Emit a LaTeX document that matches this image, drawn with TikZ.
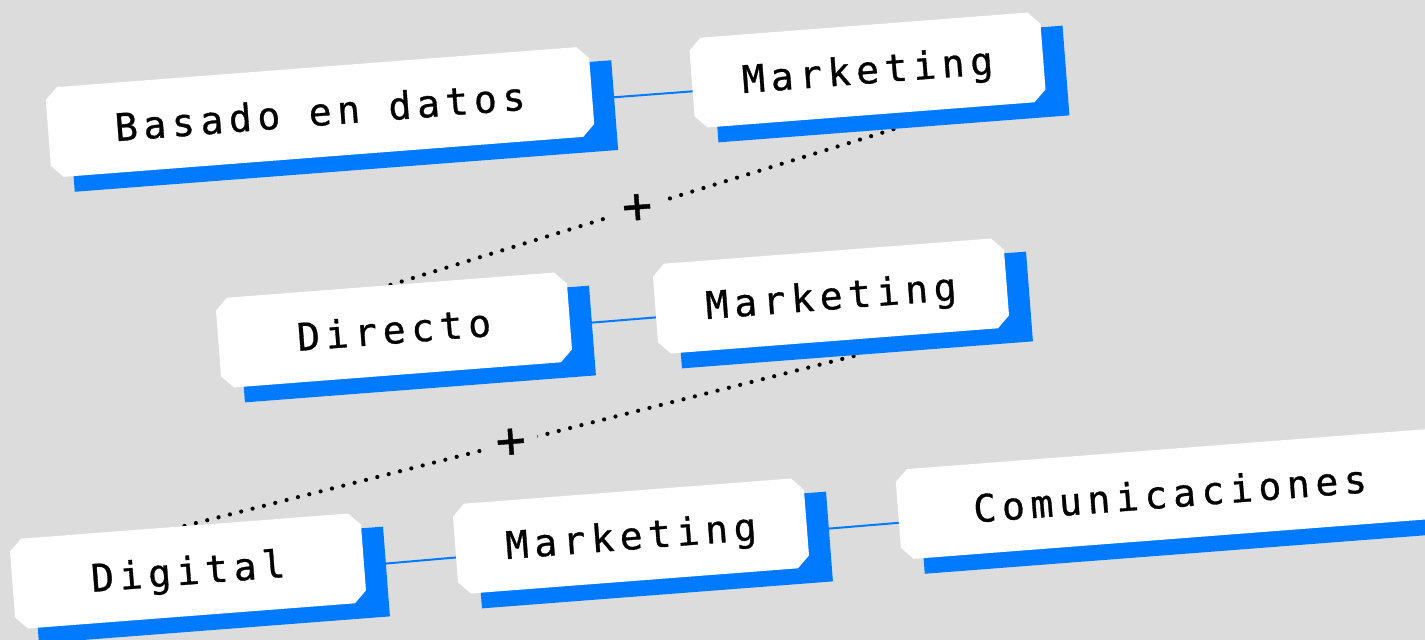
\documentclass[tikz,border=0pt]{standalone}
\usepackage{fontspec}
\newfontfamily\boxfont{DejaVu Sans Mono}[LetterSpace=15,FakeBold=0.8]
\newfontfamily\plusfont{DejaVu Sans Mono}[FakeBold=0.8]
\usetikzlibrary{shapes.misc}
\definecolor{bg}{RGB}{220,220,220}
\definecolor{accent}{RGB}{0,123,255}
\pgfdeclarelayer{back}
\pgfsetlayers{back,main}
\begin{document}
\begin{tikzpicture}[x=1pt,y=-1pt,
  boxbase/.style={chamfered rectangle, chamfered rectangle xsep=6pt, chamfered rectangle ysep=6pt,
    inner sep=0pt, minimum height=90pt, rotate=4.4, draw=none},
  wbox/.style={boxbase, fill=white, font=\boxfont\fontsize{38}{38}\selectfont, text height=27pt, text depth=0pt},
  sbox/.style={boxbase, fill=accent},
  small/.style={minimum width=352pt},
  large/.style={minimum width=545pt},
  conn/.style={draw=accent, line width=2pt},
  dotline/.style={draw=black, line width=4.2pt, line cap=round, dash pattern=on 0pt off 11.7pt},
  plusnode/.style={fill=bg, font=\plusfont\fontsize{50}{50}\selectfont, rotate=4.4, minimum width=54pt, minimum height=44pt, inner sep=0pt}
]
\useasboundingbox (0,0) rectangle (1425,640);
% shadows
\node[sbox, large] (bs)  at (343,126) {};
\node[sbox, small] (m1s) at (890.5,84) {};
\node[sbox, small] (ds)  at (417,344) {};
\node[sbox, small] (m2s) at (854,310) {};
\node[sbox, small] (gs)  at (211,585) {};
\node[sbox, small] (m3s) at (654,550) {};
\node[sbox, large] (cs)  at (1193,508) {};
% boxes
\node[wbox, large] (b)  at (320,112) {Basado en datos};
\node[wbox, small] (m1) at (867.5,70) {Marketing};
\node[wbox, small] (d)  at (394,330) {Directo};
\node[wbox, small] (m2) at (831,296) {Marketing};
\node[wbox, small] (g)  at (188,571) {Digital};
\node[wbox, small] (m3) at (631,536) {Marketing};
\node[wbox, large] (c)  at (1170,494) {Comunicaciones};
\begin{pgfonlayer}{back}
\fill[bg] (0,0) rectangle (1425,640);
\draw[conn] ([shift={(11.5,7)}]b.east) -- ([shift={(11.5,7)}]m1.west);
\draw[conn] ([shift={(11.5,7)}]d.east) -- ([shift={(11.5,7)}]m2.west);
\draw[conn] ([shift={(11.5,7)}]g.east) -- ([shift={(11.5,7)}]m3.west);
\draw[conn] ([shift={(11.5,7)}]m3.east) -- ([shift={(11.5,7)}]c.west);
\draw[dotline] (d.north) -- node[pos=.49, plusnode] (p1) {+} (m1s.south);
\draw[dotline] (g.north) -- node[pos=.485, plusnode] (p2) {+} (m2s.south);
\end{pgfonlayer}
\end{tikzpicture}
\end{document}
